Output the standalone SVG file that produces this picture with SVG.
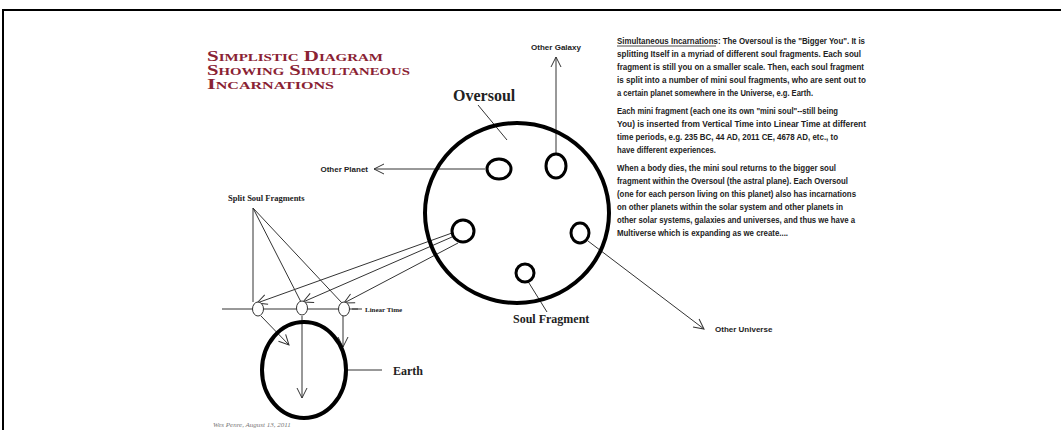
<svg xmlns="http://www.w3.org/2000/svg" width="1061" height="430" viewBox="0 0 1061 430">
<defs>
<style>
.thick{fill:none;stroke:#000;stroke-width:4}
.soul{fill:none;stroke:#000;stroke-width:3}
.frag{fill:#fff;stroke:#333;stroke-width:1}
.ln{fill:none;stroke:#333;stroke-width:1}
.lbl{font-family:"Liberation Sans",Arial,sans-serif;font-weight:bold;font-size:8px;fill:#222}
.ser{font-family:"Liberation Serif","Times New Roman",serif;font-weight:bold;fill:#222}
.body{font-family:"Liberation Sans",Arial,sans-serif;font-weight:bold;font-size:9px;fill:#222}
.title{font-family:"Liberation Serif","Times New Roman",serif;font-weight:bold;font-size:14px;font-variant:small-caps;fill:#8a2233}
</style>
<marker id="arr" viewBox="0 0 12 12" refX="11" refY="6" markerWidth="12" markerHeight="12" markerUnits="userSpaceOnUse" orient="auto">
<path d="M1,1 L11,6 L1,11" fill="none" stroke="#333" stroke-width="1"/>
</marker>
</defs>
<rect width="1061" height="430" fill="#fff"/>
<path d="M3,430 V10 H1061" fill="none" stroke="#000" stroke-width="2"/>

<g id="title">
<text class="title" x="207" y="61" textLength="176" lengthAdjust="spacingAndGlyphs">Simplistic Diagram</text>
<text class="title" x="207" y="75" textLength="203" lengthAdjust="spacingAndGlyphs">Showing Simultaneous</text>
<text class="title" x="207" y="89" textLength="127" lengthAdjust="spacingAndGlyphs">Incarnations</text>
</g>

<g id="description">
<text class="body" x="617" y="44" textLength="248" lengthAdjust="spacingAndGlyphs">Simultaneous Incarnations: The Oversoul is the "Bigger You". It is</text>
<line x1="617" y1="46" x2="716" y2="46" stroke="#222" stroke-width="0.8"/>
<text class="body" x="617" y="57" textLength="244" lengthAdjust="spacingAndGlyphs">splitting Itself in a myriad of different soul fragments. Each soul</text>
<text class="body" x="617" y="70" textLength="247" lengthAdjust="spacingAndGlyphs">fragment is still you on a smaller scale. Then, each soul fragment</text>
<text class="body" x="617" y="83" textLength="249" lengthAdjust="spacingAndGlyphs">is split into a number of mini soul fragments, who are sent out to</text>
<text class="body" x="617" y="96" textLength="196" lengthAdjust="spacingAndGlyphs">a certain planet somewhere in the Universe, e.g. Earth.</text>
<text class="body" x="617" y="114" textLength="221" lengthAdjust="spacingAndGlyphs">Each mini fragment (each one its own "mini soul"--still being</text>
<text class="body" x="617" y="127" textLength="249" lengthAdjust="spacingAndGlyphs">You) is inserted from Vertical Time into Linear Time at different</text>
<text class="body" x="617" y="140" textLength="221" lengthAdjust="spacingAndGlyphs">time periods, e.g. 235 BC, 44 AD, 2011 CE, 4678 AD, etc., to</text>
<text class="body" x="617" y="153" textLength="99" lengthAdjust="spacingAndGlyphs">have different experiences.</text>
<text class="body" x="617" y="171" textLength="219" lengthAdjust="spacingAndGlyphs">When a body dies, the mini soul returns to the bigger soul</text>
<text class="body" x="617" y="184" textLength="231" lengthAdjust="spacingAndGlyphs">fragment within the Oversoul (the astral plane). Each Oversoul</text>
<text class="body" x="617" y="197" textLength="239" lengthAdjust="spacingAndGlyphs">(one for each person living on this planet) also has incarnations</text>
<text class="body" x="617" y="210" textLength="226" lengthAdjust="spacingAndGlyphs">on other planets within the solar system and other planets in</text>
<text class="body" x="617" y="223" textLength="238" lengthAdjust="spacingAndGlyphs">other solar systems, galaxies and universes, and thus we have a</text>
<text class="body" x="617" y="236" textLength="171" lengthAdjust="spacingAndGlyphs">Multiverse which is expanding as we create....</text>
</g>

<g id="connectors">
<line class="ln" x1="478" y1="105" x2="507" y2="140"/>
<line class="ln" x1="556" y1="153" x2="556" y2="57" marker-end="url(#arr)"/>
<line class="ln" x1="485" y1="169" x2="374" y2="169" marker-end="url(#arr)"/>
<line class="ln" x1="588" y1="241" x2="704" y2="329" marker-end="url(#arr)"/>
<line class="ln" x1="529" y1="283" x2="547" y2="312"/>
<line class="ln" x1="452" y1="233" x2="257" y2="303" marker-end="url(#arr)"/>
<line class="ln" x1="452" y1="237" x2="303" y2="302" marker-end="url(#arr)"/>
<line class="ln" x1="458" y1="243" x2="344" y2="303" marker-end="url(#arr)"/>
<line class="ln" x1="253" y1="208" x2="253" y2="302"/>
<line class="ln" x1="253" y1="208" x2="301" y2="302"/>
<line class="ln" x1="253" y1="208" x2="342" y2="303"/>
<line class="ln" x1="222" y1="309" x2="358" y2="309"/>
<line class="ln" x1="352" y1="309" x2="362" y2="309"/>
<line class="ln" x1="261" y1="316" x2="289" y2="345" marker-end="url(#arr)"/>
<line class="ln" x1="302" y1="316" x2="302" y2="398" marker-end="url(#arr)"/>
<line class="ln" x1="343" y1="316" x2="343" y2="347" marker-end="url(#arr)"/>
<line class="ln" x1="346" y1="370" x2="382" y2="370"/>
</g>

<g id="oversoul">
<ellipse class="thick" cx="517" cy="213" rx="92" ry="90"/>
<text class="ser" x="453" y="101" font-size="16">Oversoul</text>
</g>
<g id="soul-planet"><ellipse class="soul" cx="499" cy="169" rx="12" ry="10"/></g>
<g id="soul-galaxy"><ellipse class="soul" cx="556" cy="166" rx="10" ry="12"/></g>
<g id="soul-split"><ellipse class="soul" cx="463" cy="231" rx="11" ry="11"/></g>
<g id="soul-earth"><ellipse class="soul" cx="525" cy="273" rx="9" ry="9"/></g>
<g id="soul-universe"><ellipse class="soul" cx="580" cy="233" rx="9" ry="10"/></g>

<g id="other-galaxy"><text class="lbl" x="556" y="50" text-anchor="middle">Other Galaxy</text></g>
<g id="other-planet"><text class="lbl" x="368" y="172" text-anchor="end">Other Planet</text></g>
<g id="other-universe"><text class="lbl" x="715" y="332">Other Universe</text></g>
<g id="soul-fragment-label"><text class="ser" x="513" y="323" font-size="12">Soul Fragment</text></g>
<g id="split-label"><text class="ser" x="228" y="201" font-size="8.5">Split Soul Fragments</text></g>
<g id="linear-time"><text class="ser" x="365" y="312" font-size="7">Linear Time</text></g>

<g id="frag1"><ellipse class="frag" cx="258" cy="309" rx="5.5" ry="7"/></g>
<g id="frag2"><ellipse class="frag" cx="302" cy="308" rx="5.5" ry="7"/></g>
<g id="frag3"><ellipse class="frag" cx="344" cy="309" rx="5.5" ry="7"/></g>

<g id="earth">
<ellipse class="thick" cx="304" cy="370" rx="42" ry="48"/>
<text class="ser" x="393" y="375" font-size="12">Earth</text>
</g>

<g id="credit"><text x="213" y="427" font-family="'Liberation Serif',serif" font-style="italic" font-size="7" fill="#777">Wes Penre, August 13, 2011</text></g>
</svg>
